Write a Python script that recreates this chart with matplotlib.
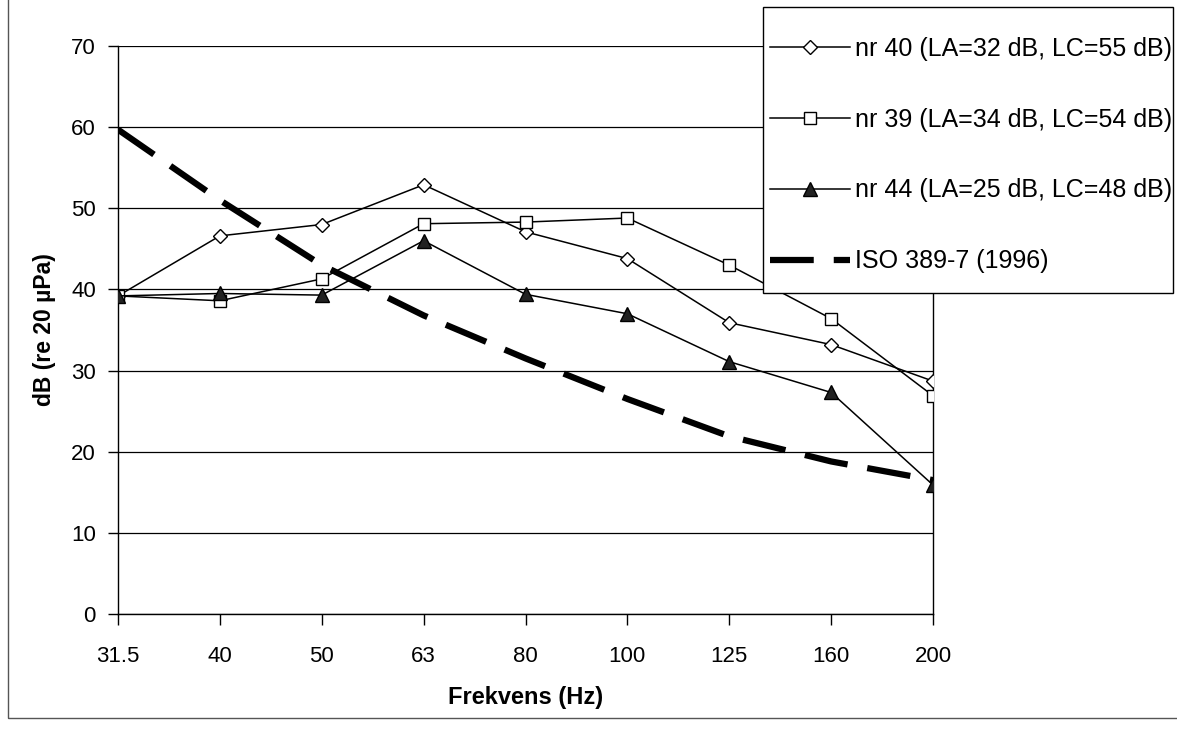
import numpy as np
import matplotlib
matplotlib.use("Agg")
import matplotlib.pyplot as plt
from matplotlib.patches import Rectangle

plt.rcParams['font.family'] = ['Liberation Sans', 'DejaVu Sans']

# -----------------------------
# Data
# -----------------------------
freqs = ["31.5", "40", "50", "63", "80", "100", "125", "160", "200"]
nr40 = [39.2, 46.6, 48.0, 52.9, 47.1, 43.8, 35.9, 33.2, 28.7]
nr39 = [39.2, 38.6, 41.3, 48.1, 48.3, 48.8, 43.0, 36.4, 26.9]
nr44 = [39.2, 39.5, 39.3, 46.0, 39.4, 37.0, 31.1, 27.3, 15.9]
iso = [59.7, 51.0, 43.0, 36.8, 31.5, 26.5, 21.9, 18.8, 16.5]

labels = [
    "nr 40 (LA=32 dB, LC=55 dB)",
    "nr 39 (LA=34 dB, LC=54 dB)",
    "nr 44 (LA=25 dB, LC=48 dB)",
    "ISO 389-7 (1996)",
]

W, H = 1177, 738
fig = plt.figure(figsize=(W / 100, H / 100), dpi=100)
fig.patch.set_facecolor("white")

# outer chart border
fig.add_artist(Rectangle((8 / W, 20 / H), 1.2, 1.2, transform=fig.transFigure,
                         fill=False, edgecolor="#555555", linewidth=1.0))

ax = fig.add_axes([118 / W, (H - 614) / H, 815 / W, 568 / H])
x = np.arange(len(freqs))

ax.plot(x, nr40, color="black", lw=1.1, marker="D", markersize=7.5,
        markerfacecolor="white", markeredgecolor="black", markeredgewidth=1.0,
        label=labels[0], zorder=4)
ax.plot(x, nr39, color="black", lw=1.1, marker="s", markersize=9,
        markerfacecolor="white", markeredgecolor="black", markeredgewidth=1.0,
        label=labels[1], zorder=4)
ax.plot(x, nr44, color="black", lw=1.1, marker="^", markersize=9.5,
        markerfacecolor="#222222", markeredgecolor="black",
        label=labels[2], zorder=4)
ax.plot(x, iso, color="black", lw=4.5, linestyle=(0, (7, 3.2)),
        solid_capstyle="butt", dash_capstyle="butt",
        label=labels[3], zorder=3)

ax.set_xlim(0, len(freqs) - 1)
ax.set_ylim(0, 70)
ax.set_xticks(x)
ax.set_xticklabels(freqs)
ax.set_yticks(np.arange(0, 71, 10))
ax.grid(axis="y", color="black", linewidth=0.9)
ax.set_axisbelow(True)

for s in ["left", "bottom", "right"]:
    ax.spines[s].set_color("black")
    ax.spines[s].set_linewidth(1.0)
ax.spines["top"].set_visible(False)

ax.tick_params(axis="x", direction="out", length=8, width=1, pad=15,
               labelsize=16)
ax.tick_params(axis="y", direction="out", length=7, width=1, pad=9,
               labelsize=16)

ax.set_xlabel("Frekvens (Hz)", fontsize=17, fontweight="bold", labelpad=14)
ax.set_ylabel("dB (re 20 µPa)", fontsize=16.5, fontweight="bold", labelpad=11)

# legend box drawn separately so its margins can match the reference
fig.add_artist(Rectangle((763 / W, 1 - 293 / H), 410 / W, 286 / H,
                         transform=fig.transFigure, facecolor="white",
                         edgecolor="black", linewidth=1.0, zorder=5))
leg = ax.legend(loc="upper left", bbox_to_anchor=(770 / W, 1 - 37 / H),
                bbox_transform=fig.transFigure, frameon=False,
                fontsize=18, handlelength=3.2, handletextpad=0.2,
                labelspacing=1.87, borderpad=0, borderaxespad=0)
leg.set_zorder(6)
fig.add_artist(leg)

fig.savefig("out.png", dpi=100)
